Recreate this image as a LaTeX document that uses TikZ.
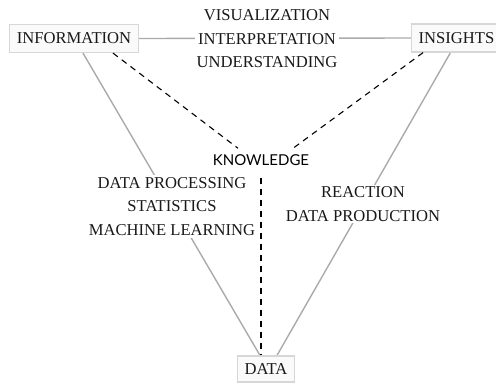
\documentclass[tikz,border=0pt]{standalone}
\usepackage{fontspec}
\setmainfont{Liberation Serif}
\newfontfamily\knowfont{Lato}
\usetikzlibrary{positioning, calc, backgrounds}
\definecolor{inkgray}{RGB}{25, 25, 25}
\definecolor{linegray}{RGB}{170, 170, 170}
\definecolor{boxgray}{RGB}{215, 215, 215}
\tikzset{
  termbox/.style={rectangle, draw=boxgray, line width=1.2pt, fill=gray!4, minimum height=28pt, inner xsep=7pt, text=inkgray, font=\fontsize{16.6}{19}\selectfont},
  steplabel/.style={align=center, fill=white, inner sep=2pt, text=inkgray, font=\fontsize{16.6}{23.5}\selectfont},
  solidlink/.style={draw=linegray, line width=1.4pt},
  dashlink/.style={draw=black, line width=1.1pt, dash pattern=on 6pt off 5pt}
}
\begin{document}
\begin{tikzpicture}[x=1pt, y=-1pt]
    \useasboundingbox (0, 0) rectangle (496, 383);
    % Corner terms
    \node[termbox] (info) at (74, 38.5) {INFORMATION};
    \node[termbox, minimum width=89pt] (ins) at (456.5, 38) {INSIGHTS};
    \node[termbox, minimum height=26pt] (data) at (266, 369) {DATA};
    \node[text=black, inner sep=2pt, font=\knowfont\fontsize{15}{18}\selectfont] (know) at (261, 160) {KNOWLEDGE};
    % Edge labels
    \node[steplabel] (top) at (267, 39) {VISUALIZATION\\INTERPRETATION\\UNDERSTANDING};
    \node[steplabel] (left) at (172, 206.5) {DATA PROCESSING\\STATISTICS\\MACHINE LEARNING};
    \node[steplabel] (right) at (363, 204) {REACTION\\DATA PRODUCTION};
    % Connectors behind the labels
    \begin{scope}[on background layer]
        \draw[solidlink] (info.east) -- (ins.west);
        \draw[solidlink] ([xshift=9pt]info.south) -- ([xshift=-6pt]data.north);
        \draw[solidlink] ([xshift=-6pt]ins.south) -- ([xshift=11pt]data.north);
    \end{scope}
    \draw[dashlink] ([xshift=39pt]info.south) -- ([xshift=-23pt, yshift=4pt]know.north);
    \draw[dashlink] ([xshift=12pt]ins.south west) -- ([xshift=32pt, yshift=4pt]know.north);
    \draw[dashlink] ([yshift=-10pt]know.south) -- (know.south |- data.north);
\end{tikzpicture}
\end{document}
